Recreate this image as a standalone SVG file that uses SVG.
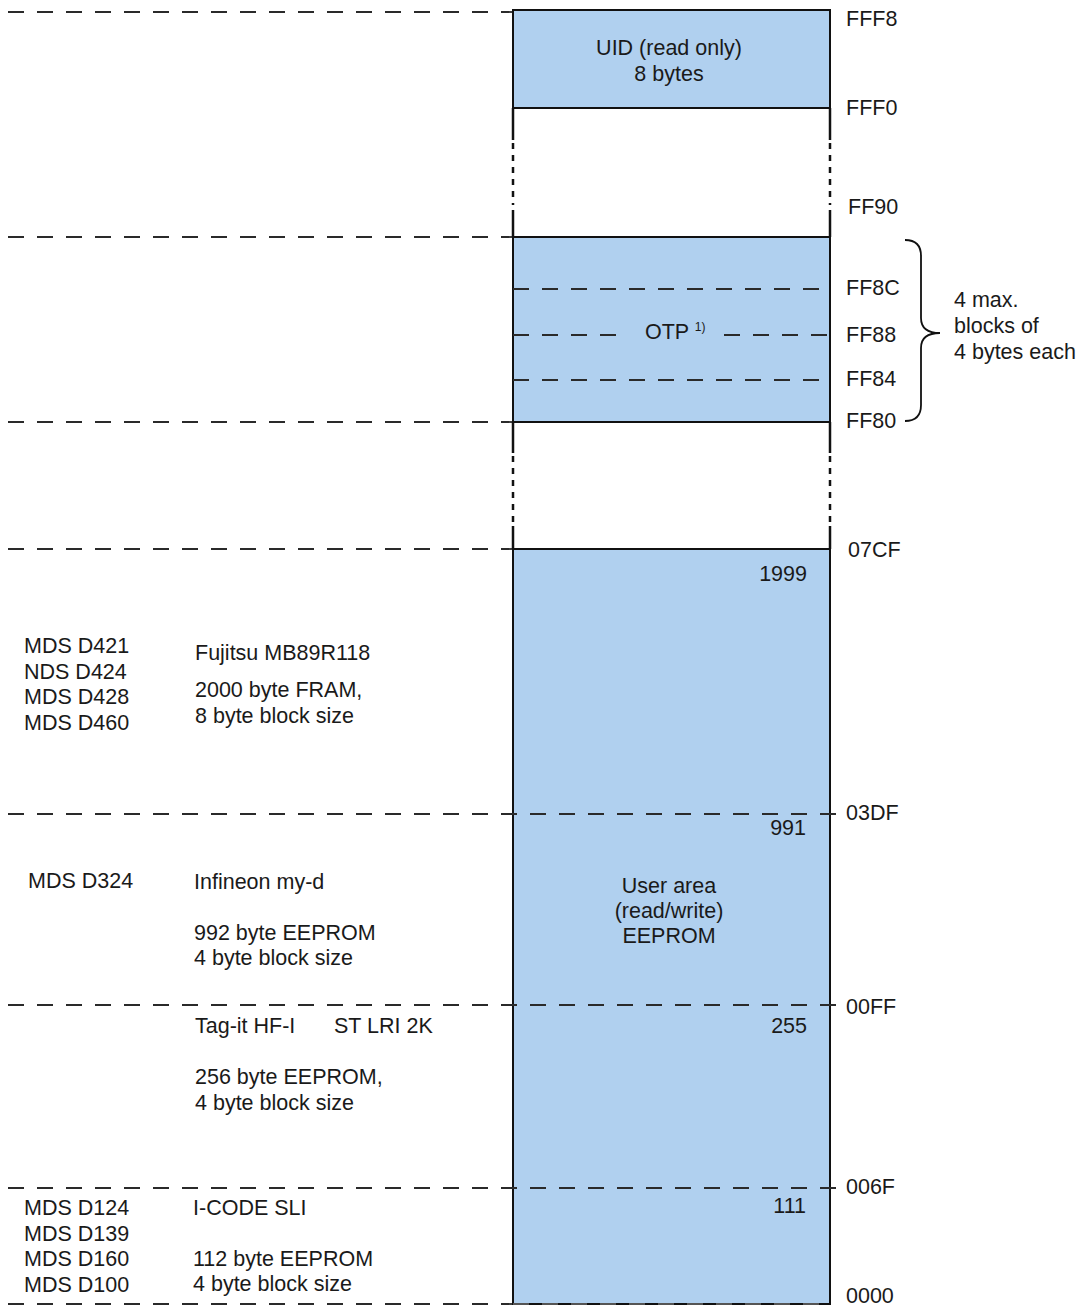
<svg xmlns="http://www.w3.org/2000/svg" width="1088" height="1306" viewBox="0 0 1088 1306">
<style>
text{font-family:"Liberation Sans",Arial,sans-serif;font-size:21.5px;fill:#1a1a1a}
.c{text-anchor:middle}
.r{text-anchor:end}
.blk{fill:#b0d0ef;stroke:#111;stroke-width:2}
.dash{stroke:#2a2a2a;stroke-width:1.8;stroke-dasharray:16 13;fill:none}
.solid{stroke:#111;stroke-width:2.5;fill:none}
.dot{stroke:#111;stroke-width:2.5;stroke-dasharray:6 6;fill:none}
</style>
<rect width="1088" height="1306" fill="#fff"/>
<g id="connectors">
<line class="dash" x1="8" y1="12" x2="512" y2="12"/>
<line class="dash" x1="8" y1="237" x2="512" y2="237"/>
<line class="dash" x1="8" y1="422" x2="512" y2="422"/>
<line class="dash" x1="8" y1="549" x2="512" y2="549"/>
<line class="dash" x1="8" y1="1304" x2="512" y2="1304"/>
</g>
<g id="uid">
<rect class="blk" x="513" y="10" width="317" height="98"/>
<text class="c" x="669" y="55">UID (read only)</text>
<text class="c" x="669" y="81">8 bytes</text>
</g>
<g id="gap1">
<line class="solid" x1="513" y1="108" x2="513" y2="140"/>
<line class="dot" x1="513" y1="143" x2="513" y2="205"/>
<line class="solid" x1="513" y1="210" x2="513" y2="237"/>
<line class="solid" x1="830" y1="108" x2="830" y2="140"/>
<line class="dot" x1="830" y1="143" x2="830" y2="205"/>
<line class="solid" x1="830" y1="210" x2="830" y2="237"/>
</g>
<g id="otp">
<rect class="blk" x="513" y="237" width="317" height="185"/>
<line class="dash" x1="513" y1="289" x2="830" y2="289"/>
<line class="dash" x1="513" y1="335" x2="625" y2="335"/>
<line class="dash" x1="724" y1="335" x2="830" y2="335"/>
<line class="dash" x1="513" y1="380" x2="830" y2="380"/>
<text x="645" y="339">OTP <tspan font-size="12" dy="-8">1)</tspan></text>
</g>
<g id="gap2">
<line class="solid" x1="513" y1="422" x2="513" y2="453"/>
<line class="dot" x1="513" y1="456" x2="513" y2="522"/>
<line class="solid" x1="513" y1="526" x2="513" y2="549"/>
<line class="solid" x1="830" y1="422" x2="830" y2="453"/>
<line class="dot" x1="830" y1="456" x2="830" y2="522"/>
<line class="solid" x1="830" y1="526" x2="830" y2="549"/>
</g>
<g id="user">
<rect class="blk" x="513" y="549" width="317" height="755"/>
<line class="dash" x1="8" y1="814" x2="836" y2="814"/>
<line class="dash" x1="8" y1="1005" x2="836" y2="1005"/>
<line class="dash" x1="8" y1="1188" x2="836" y2="1188"/>
<line class="dash" x1="513" y1="1304" x2="830" y2="1304" style="stroke:#555"/>
<text class="r" x="807" y="581">1999</text>
<text class="r" x="806" y="835">991</text>
<text class="r" x="807" y="1033">255</text>
<text class="r" x="806" y="1213">111</text>
<text class="c" x="669" y="893">User area</text>
<text class="c" x="669" y="918">(read/write)</text>
<text class="c" x="669" y="943">EEPROM</text>
</g>
<g id="addresses">
<text x="846" y="26">FFF8</text>
<text x="846" y="115">FFF0</text>
<text x="848" y="214">FF90</text>
<text x="846" y="295">FF8C</text>
<text x="846" y="342">FF88</text>
<text x="846" y="386">FF84</text>
<text x="846" y="428">FF80</text>
<text x="848" y="557">07CF</text>
<text x="846" y="820">03DF</text>
<text x="846" y="1014">00FF</text>
<text x="846" y="1194">006F</text>
<text x="846" y="1303">0000</text>
</g>
<g id="brace">
<path d="M905,240 Q921,240 921,256 L921,318 Q921,333 940,333 Q921,333 921,348 L921,405 Q921,421 905,421" fill="none" stroke="#111" stroke-width="1.8"/>
<text x="954" y="307">4 max.</text>
<text x="954" y="333">blocks of</text>
<text x="954" y="359">4 bytes each</text>
</g>
<g id="fujitsu">
<text x="24" y="653">MDS D421</text>
<text x="24" y="679">NDS D424</text>
<text x="24" y="704">MDS D428</text>
<text x="24" y="730">MDS D460</text>
<text x="195" y="660">Fujitsu MB89R118</text>
<text x="195" y="697">2000 byte FRAM,</text>
<text x="195" y="723">8 byte block size</text>
</g>
<g id="infineon">
<text x="28" y="888">MDS D324</text>
<text x="194" y="889">Infineon my-d</text>
<text x="194" y="940">992 byte EEPROM</text>
<text x="194" y="965">4 byte block size</text>
</g>
<g id="tagit">
<text x="195" y="1033">Tag-it HF-I</text>
<text x="334" y="1033">ST LRI 2K</text>
<text x="195" y="1084">256 byte EEPROM,</text>
<text x="195" y="1110">4 byte block size</text>
</g>
<g id="icode">
<text x="24" y="1215">MDS D124</text>
<text x="24" y="1241">MDS D139</text>
<text x="24" y="1266">MDS D160</text>
<text x="24" y="1292">MDS D100</text>
<text x="193" y="1215">I-CODE SLI</text>
<text x="193" y="1266">112 byte EEPROM</text>
<text x="193" y="1291">4 byte block size</text>
</g>
</svg>
